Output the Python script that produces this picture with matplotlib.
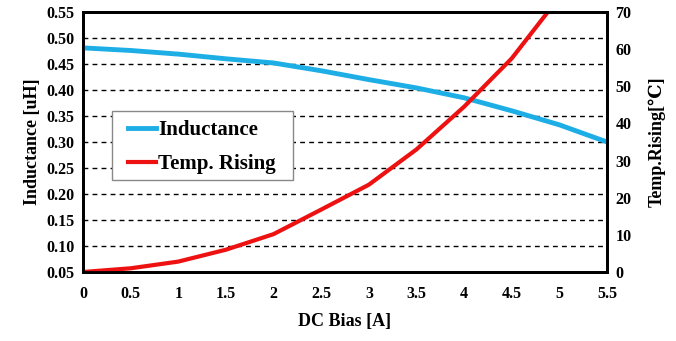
import matplotlib
matplotlib.use('Agg')
import matplotlib.pyplot as plt
from matplotlib.patches import Rectangle

# DC bias sweep
bias = [0, 0.5, 1, 1.5, 2, 2.5, 3, 3.5, 4, 4.5, 5, 5.5]
inductance = [0.481, 0.476, 0.469, 0.460, 0.452, 0.437, 0.420, 0.404, 0.385, 0.360, 0.333, 0.300]
temp_bias = [0, 0.5, 1, 1.5, 2, 2.5, 3, 3.5, 4, 4.5, 5]
temp_rise = [0, 1.0, 2.8, 6.0, 10.2, 16.8, 23.5, 33.0, 44.5, 57.5, 74.0]

plt.rcParams['font.family'] = 'Liberation Serif'
plt.rcParams['font.weight'] = 'bold'

fig = plt.figure(figsize=(6.76, 3.41), dpi=100)
ax = fig.add_axes([83/676, 1 - 272/341, (607-83)/676, (272-12)/341])
ax2 = ax.twinx()

l1, = ax.plot(bias, inductance, color='#1eaee6', lw=3.5, label='Inductance', zorder=3)
l2, = ax2.plot(temp_bias, temp_rise, color='#ee1111', lw=3, label='Temp. Rising', clip_on=True)

ax.set_xlim(0, 5.5)
ax.set_ylim(0.05, 0.55)
ax2.set_ylim(0, 70)
ax.set_xticks([i * 0.5 for i in range(12)])
ax.set_xticklabels(['0', '0.5', '1', '1.5', '2', '2.5', '3', '3.5', '4', '4.5', '5', '5.5'])
ax.set_yticks([0.05 + 0.05 * i for i in range(11)])
ax.set_yticklabels(['%.2f' % (0.05 + 0.05 * i) for i in range(11)])
ax2.set_yticks(range(0, 71, 10))

ax.yaxis.grid(True, color='black', linestyle=(0, (3.5, 3)), lw=1)
ax.set_axisbelow(True)
ax.tick_params(axis='both', length=0, labelsize=11.5, pad=6)
ax.tick_params(axis='x', pad=10)
ax2.tick_params(axis='y', length=0, labelsize=11.5, pad=6)
for s in ax.spines.values():
    s.set_linewidth(2)
for s in ax2.spines.values():
    s.set_linewidth(2)

ax.set_xlabel('DC Bias [A]', fontsize=13, fontweight='bold', labelpad=8)
ax.set_ylabel('Inductance [uH]', fontsize=13, fontweight='bold', labelpad=4)
ax2.set_ylabel('Temp.Rising[℃]', fontsize=13, fontweight='bold', family=['Liberation Serif', 'DejaVu Serif'], labelpad=12)

# legend box drawn separately so its padding can be wider than tall
ax2.add_patch(Rectangle((0.0553, 0.354), 0.3455, 0.265, transform=ax2.transAxes,
                        facecolor='white', edgecolor='#888888', lw=1, zorder=4))
leg = ax2.legend([l1, l2], ['Inductance', 'Temp. Rising'], loc='upper left',
                 bbox_to_anchor=(0.086, 0.583), borderaxespad=0, borderpad=0,
                 fontsize=15, frameon=False, handlelength=1.35, handletextpad=0.1,
                 labelspacing=0.65)
leg.set_zorder(5)

fig.savefig('out.png', dpi=100)
